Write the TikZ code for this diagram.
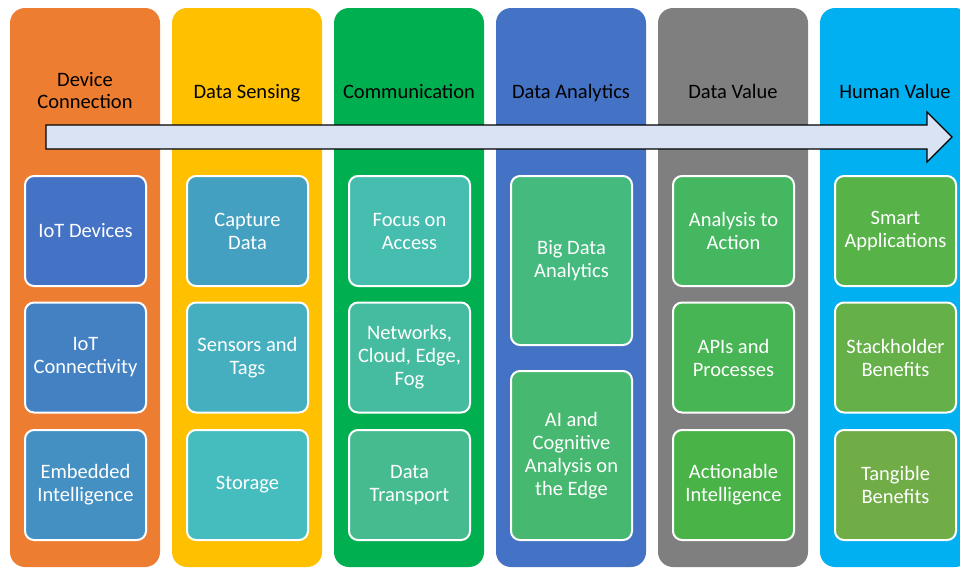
\documentclass[tikz,border=0pt]{standalone}
\usepackage{fontspec}
\setmainfont{Carlito}
\usetikzlibrary{positioning}

% column colours
\definecolor{colOrange}{HTML}{ED7D31}
\definecolor{colYellow}{HTML}{FFC000}
\definecolor{colGreen}{HTML}{00B050}
\definecolor{colBlue}{HTML}{4472C4}
\definecolor{colGray}{HTML}{7F7F7F}
\definecolor{colCyan}{HTML}{00B0F0}
% box colours, blue to green
\definecolor{boxA}{HTML}{4472C4}
\definecolor{boxB}{HTML}{4481C3}
\definecolor{boxC}{HTML}{4490C2}
\definecolor{boxD}{HTML}{44A0C1}
\definecolor{boxE}{HTML}{45AFC0}
\definecolor{boxF}{HTML}{45BDBE}
\definecolor{boxG}{HTML}{45BDAF}
\definecolor{boxH}{HTML}{45BC9F}
\definecolor{boxI}{HTML}{45BB8F}
\definecolor{boxJ}{HTML}{45BA7F}
\definecolor{boxK}{HTML}{46B870}
\definecolor{boxL}{HTML}{46B761}
\definecolor{boxM}{HTML}{47B553}
\definecolor{boxN}{HTML}{49B348}
\definecolor{boxO}{HTML}{57B248}
\definecolor{boxP}{HTML}{65B049}
\definecolor{boxQ}{HTML}{70AD47}
\definecolor{arrowfill}{HTML}{DAE3F3}

\begin{document}
\begin{tikzpicture}[x=1pt, y=-1pt,
    column/.style={fill=#1, rounded corners=15pt, minimum width=150pt,
        minimum height=559pt, inner sep=0pt},
    heading/.style={text=black, align=center, font=\fontsize{20.5}{22}\selectfont},
    item/.style={fill=#1, draw=white, line width=2pt, rounded corners=9pt,
        minimum width=121pt, minimum height=110pt, inner sep=2pt,
        text=white, align=center, font=\fontsize{20.5}{23}\selectfont},
    tallitem/.style={item=#1, minimum height=169pt}]
    \useasboundingbox (0,0) rectangle (960,568);
    \clip (0,0) rectangle (960,568);

    % Columns
    \node[column=colOrange] (devcol) at (85,287.5) {};
    \node[column=colYellow] (sensecol) at (247,287.5) {};
    \node[column=colGreen] (commcol) at (409,287.5) {};
    \node[column=colBlue] (analycol) at (571,287.5) {};
    \node[column=colGray] (valuecol) at (733,287.5) {};
    \node[column=colCyan] (humancol) at (895,287.5) {};

    % Headings
    \node[heading] (devtitle) at (85,91) {Device\\Connection};
    \node[heading, anchor=base] (sensetitle) at (247,98) {Data Sensing};
    \node[heading, anchor=base] (commtitle) at (409,98) {Communication};
    \node[heading, anchor=base] (analytitle) at (571,98) {Data Analytics};
    \node[heading, anchor=base] (valuetitle) at (733,98) {Data Value};
    \node[heading, anchor=base] (humantitle) at (895,98) {Human Value};

    % Flow arrow across the columns
    \draw[fill=arrowfill, line width=1.2pt, line join=miter]
        (46,125) -- (927,125) -- (927,112) -- (952,137) -- (927,162)
        -- (927,149) -- (46,149) -- cycle;

    % Device connection
    \node[item=boxA] (iotdev) at (85.5,231) {IoT Devices};
    \node[item=boxB] (iotconn) at (85.5,357.5) {IoT\\Connectivity};
    \node[item=boxC] (embintel) at (85.5,485) {Embedded\\Intelligence};

    % Data sensing
    \node[item=boxD] (capture) at (247.5,231) {Capture\\Data};
    \node[item=boxE] (sensors) at (247.5,357.5) {Sensors and\\Tags};
    \node[item=boxF] (storage) at (247.5,485) {Storage};

    % Communication
    \node[item=boxG] (access) at (409.5,231) {Focus on\\Access};
    \node[item=boxH] (networks) at (409.5,357.5) {Networks,\\Cloud, Edge,\\Fog};
    \node[item=boxI] (transport) at (409.5,485) {Data\\Transport};

    % Data analytics
    \node[tallitem=boxJ] (bigdata) at (571.5,260.5) {Big Data\\Analytics};
    \node[tallitem=boxK] (aiedge) at (571.5,455.5) {AI and\\Cognitive\\Analysis on\\the Edge};

    % Data value
    \node[item=boxL] (action) at (733.5,231) {Analysis to\\Action};
    \node[item=boxM] (apis) at (733.5,357.5) {APIs and\\Processes};
    \node[item=boxN] (actintel) at (733.5,485) {Actionable\\Intelligence};

    % Human value
    \node[item=boxO] (smartapps) at (895.5,231) {Smart\\Applications};
    \node[item=boxP] (stakeben) at (895.5,357.5) {Stackholder\\Benefits};
    \node[item=boxQ] (tangible) at (895.5,485) {Tangible\\Benefits};
\end{tikzpicture}
\end{document}
